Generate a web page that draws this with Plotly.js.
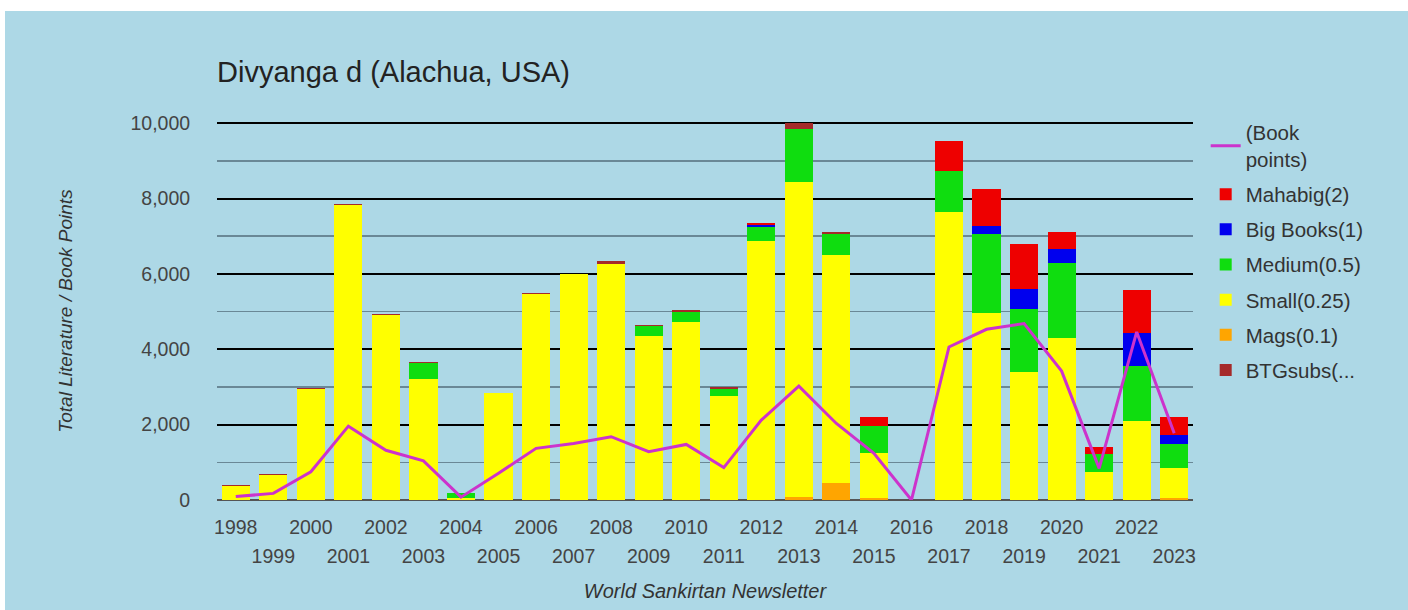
<!DOCTYPE html>
<html>
<head>
<meta charset="utf-8">
<script src="https://cdn.plot.ly/plotly-3.0.1.min.js"></script>
<style>
  html, body { margin: 0; padding: 0; background: #ffffff; width: 1408px; height: 610px; overflow: hidden; }
  #chart { position: absolute; left: 5px; top: 11px; width: 1403px; height: 599px; }
</style>
</head>
<body>
<div id="chart"></div>
<script>
// ---- Data ----
const years = [1998,1999,2000,2001,2002,2003,2004,2005,2006,2007,2008,2009,2010,2011,2012,2013,2014,2015,2016,2017,2018,2019,2020,2021,2022,2023];

const mags     = [0,0,0,0,0,0,0,0,0,0,0,0,0,0,0,70,450,40,0,0,0,0,0,0,0,50];
const small    = [380,670,2950,7820,4900,3220,50,2830,5460,6000,6270,4350,4710,2760,6860,8380,6060,1220,0,7640,4960,3400,4300,750,2100,790];
const medium   = [0,0,0,0,0,410,130,0,0,0,0,270,270,180,380,1400,540,700,0,1090,2100,1680,1990,460,1450,645];
const bigBooks = [0,0,0,0,0,0,0,0,0,0,0,0,0,0,70,0,0,0,0,0,220,530,380,0,870,245];
const mahabig  = [0,0,0,0,0,0,0,0,0,0,0,0,0,0,40,0,0,230,0,800,960,1190,440,200,1150,470];
const btgsubs  = [20,20,30,30,30,20,0,20,20,0,60,20,70,60,0,150,60,0,0,0,0,0,0,0,0,0];
const bookPoints = [90,175,750,1960,1320,1040,75,710,1370,1500,1680,1280,1475,860,2120,3020,2030,1240,0,4060,4530,4680,3420,840,4460,1770];

const evenYears = years.filter(y => y % 2 === 0);
const oddYears  = years.filter(y => y % 2 === 1);

const FONT = '"Liberation Sans", Arial, sans-serif';

function barTrace(name, values, color, rank) {
  return {
    type: 'bar', name: name, x: years, y: values,
    marker: { color: color }, legendrank: rank, legendgroup: name,
    hovertemplate: name + ': %{y}<extra>%{x}</extra>'
  };
}

const traces = [
  barTrace('Mags(0.1)', mags, '#ffa500', 6),
  barTrace('Small(0.25)', small, '#ffff00', 5),
  barTrace('Medium(0.5)', medium, '#0fdd0f', 4),
  barTrace('Big Books(1)', bigBooks, '#0000ee', 3),
  barTrace('Mahabig(2)', mahabig, '#ee0000', 2),
  barTrace('BTGsubs(...', btgsubs, '#a52a2a', 7),
  {
    type: 'scatter', mode: 'lines', name: '(Book<br>points)', x: years, y: bookPoints,
    line: { color: '#cc33cc', width: 3 }, legendrank: 1, legendgroup: 'bp'
  },
  {
    type: 'scatter', mode: 'markers', x: years, y: bookPoints, xaxis: 'x2',
    marker: { opacity: 0 }, showlegend: false, hoverinfo: 'skip'
  }
];

const layout = {
  width: 1403, height: 599,
  margin: { l: 211.7, r: 215, t: 111.2, b: 110, pad: 0 },
  paper_bgcolor: '#add8e6', plot_bgcolor: '#add8e6',
  font: { family: FONT, color: '#444' },
  barmode: 'stack', bargap: 0.25,
  title: {
    text: 'Divyanga d (Alachua, USA)',
    font: { family: FONT, size: 29, color: '#222' },
    xref: 'paper', x: 0, xanchor: 'left',
    yref: 'container', y: 1 - 61 / 599, yanchor: 'middle'
  },
  xaxis: {
    range: [1997.5, 2023.5], fixedrange: true,
    tickvals: evenYears, ticktext: evenYears.map(String),
    ticks: 'outside', ticklen: 10, tickcolor: 'rgba(0,0,0,0)',
    tickfont: { family: FONT, size: 19.5, color: '#444' },
    showgrid: false, zeroline: false, showline: false
  },
  xaxis2: {
    overlaying: 'x', anchor: 'y', side: 'bottom',
    range: [1997.5, 2023.5], fixedrange: true,
    tickvals: oddYears, ticktext: oddYears.map(String),
    ticks: 'outside', ticklen: 39, tickcolor: 'rgba(0,0,0,0)',
    tickfont: { family: FONT, size: 19.5, color: '#444' },
    showgrid: false, zeroline: false, showline: false,
    title: {
      text: 'World Sankirtan Newsletter', standoff: 17,
      font: { family: FONT, size: 20, color: '#333', style: 'italic' }
    }
  },
  yaxis: {
    range: [0, 10030], fixedrange: true,
    tick0: 0, dtick: 2000, tickformat: ',d',
    ticks: 'outside', ticklen: 22, tickcolor: 'rgba(0,0,0,0)',
    tickfont: { family: FONT, size: 19.5, color: '#444' },
    showgrid: true, gridcolor: '#000000', gridwidth: 2,
    minor: { tick0: 1000, dtick: 2000, showgrid: true, gridcolor: '#6a8896', gridwidth: 1.5, ticks: '' },
    zeroline: true, zerolinecolor: '#555555', zerolinewidth: 2,
    showline: false,
    title: {
      text: 'Total Literature / Book Points', standoff: 52,
      font: { family: FONT, size: 19, color: '#333', style: 'italic' }
    }
  },
  legend: {
    x: 1.013, y: 1.025, xanchor: 'left', yanchor: 'top',
    bgcolor: 'rgba(0,0,0,0)', traceorder: 'grouped', tracegroupgap: 5.5,
    font: { family: FONT, size: 20.5, color: '#333' }
  },
  showlegend: true
};

Plotly.newPlot('chart', traces, layout, { displayModeBar: false, staticPlot: true });
</script>
</body>
</html>
